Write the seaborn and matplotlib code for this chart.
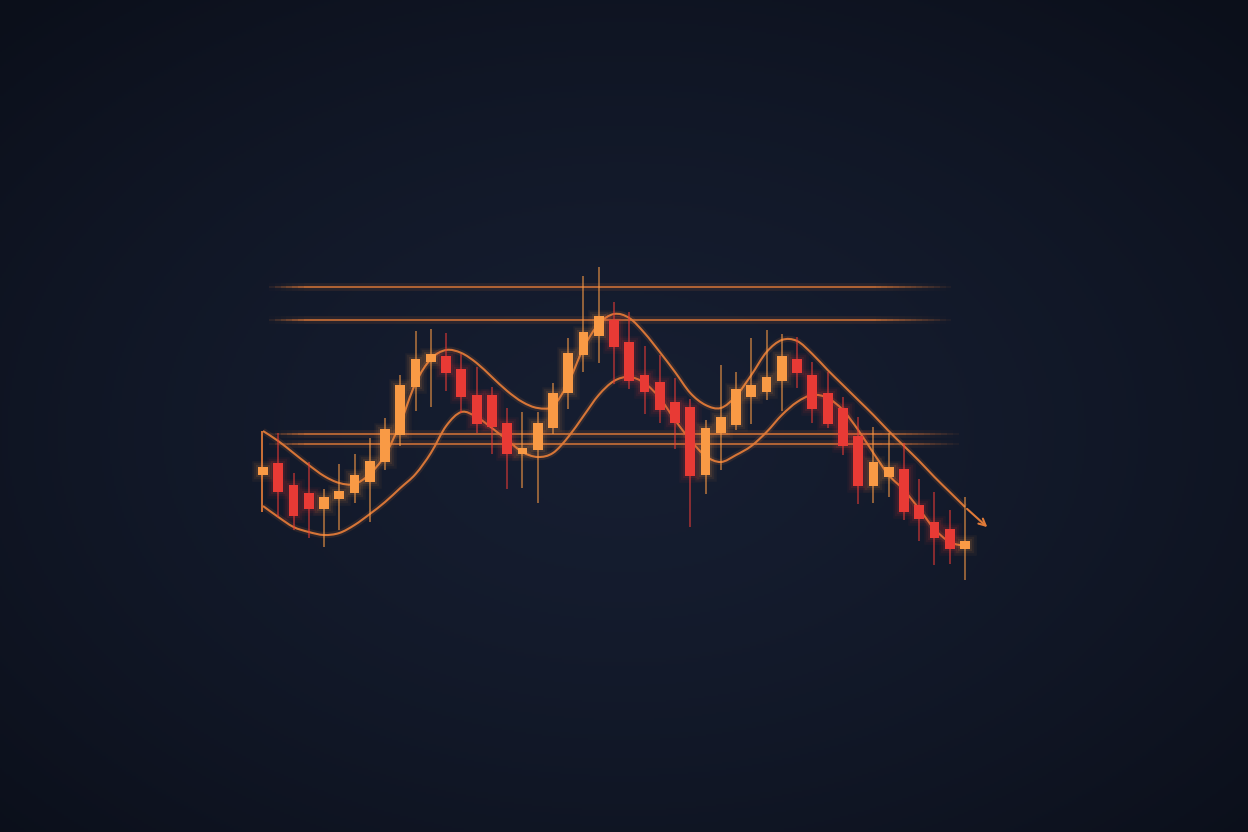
"""Dark candlestick chart with envelope curves, support/resistance levels and a trend arrow."""
import matplotlib
matplotlib.use("Agg")
import matplotlib.pyplot as plt
import numpy as np
import pandas as pd
import seaborn as sns
from matplotlib.collections import LineCollection
from matplotlib.colors import to_rgb
from matplotlib.patches import PathPatch
from matplotlib.path import Path

# candle data (price units, arbitrary scale)
opens = [225, 237, 215, 207, 191, 201, 207, 218, 238, 265, 313, 338, 344, 331, 305, 305,
         277, 246, 250, 272, 307, 345, 364, 380, 358, 325, 318, 298, 293, 225, 267, 275,
         303, 308, 319, 341, 325, 307, 292, 264, 214, 223, 231, 195, 178, 171, 151]
closes = [233, 208, 184, 191, 203, 209, 225, 239, 271, 315, 341, 346, 327, 303, 276, 273,
          246, 252, 277, 307, 347, 368, 384, 353, 319, 308, 290, 277, 224, 272, 283, 311,
          315, 323, 344, 327, 291, 276, 254, 214, 238, 233, 188, 181, 162, 151, 159]
highs = [233, 267, 227, 238, 211, 236, 246, 262, 282, 325, 369, 371, 367, 346, 333, 313,
         292, 288, 288, 317, 362, 424, 433, 398, 388, 354, 345, 322, 301, 280, 335, 328,
         362, 370, 366, 363, 338, 328, 303, 283, 273, 267, 257, 221, 208, 190, 203]
lows = [225, 183, 170, 162, 153, 170, 197, 178, 230, 254, 289, 293, 309, 287, 267, 246,
        211, 212, 197, 266, 291, 328, 337, 316, 311, 286, 277, 251, 173, 206, 230, 270,
        276, 300, 289, 312, 277, 272, 245, 196, 197, 203, 180, 159, 135, 136, 120]

# envelope curves
upper_band = [269, 259, 247, 235, 224, 217, 216, 226, 245, 277, 317, 341, 350, 347, 337, 323,
              309, 298, 292, 294, 317, 352, 376, 386, 382, 367, 348, 328, 307, 295, 292, 304,
              325, 348, 360, 359, 346, 330, 315, 300, 285, 269, 254, 239, 223, 208, 193]
lower_band = [194, 183, 173, 168, 165, 167, 175, 186, 198, 212, 226, 247, 274, 288, 283, 272,
              260, 248, 243, 247, 263, 284, 305, 319, 323, 317, 302, 280, 260, 244, 238, 245,
              254, 268, 285, 298, 305, 302, 290, 270, 247, 225, 210, 191, 171, 158, 154]
bracket_low = 188
arrow_end = (47.6, 171)

resistance_levels = [413, 380]
support_levels = [266, 256]

UP = "#F99A45"
DOWN = "#E83A35"
LINE = "#E07A38"

df = pd.DataFrame({"open": opens, "close": closes, "high": highs, "low": lows})
df["idx"] = np.arange(len(df))
df["up"] = df["close"] >= df["open"]
df["color"] = np.where(df["up"], UP, DOWN)

sns.set_theme(style="dark", rc={"axes.facecolor": "#101626", "figure.facecolor": "#101626"})

fig = plt.figure(figsize=(12.48, 8.32), dpi=100)
ax = fig.add_axes([0, 0, 1, 1])
xlim = (-263 / 15.26, (1248 - 263) / 15.26)
ylim = (-132, 700)
ax.set_xlim(xlim)
ax.set_ylim(ylim)
ax.axis("off")

# background radial gradient
h, w = 416, 624
Y, X = np.mgrid[0:1:h * 1j, 0:1:w * 1j]
r = np.sqrt(((X - 0.5) / 0.75) ** 2 + ((Y - 0.52) / 0.75) ** 2)
t = np.clip(r / 0.95, 0, 1) ** 1.4
c_in = np.array(to_rgb("#161e31"))
c_out = np.array(to_rgb("#0b0f1a"))
bg = c_in[None, None, :] * (1 - t[..., None]) + c_out[None, None, :] * t[..., None]
ax.imshow(bg, extent=(*xlim, *ylim), aspect="auto", zorder=0, origin="upper")


def faded_hline(y, x0, x1, lw=1.4, alpha=0.75):
    xs = np.linspace(x0, x1, 120)
    segs = [[(xs[k], y), (xs[k + 1], y)] for k in range(len(xs) - 1)]
    pos = np.linspace(0, 1, len(segs))
    a = alpha * np.clip(np.minimum(pos / 0.06, (1 - pos) / 0.12), 0, 1)
    cols = [(*to_rgb(LINE), ai) for ai in a]
    ax.add_collection(LineCollection(segs, colors=cols, linewidths=lw, zorder=2))
    glow = [(*to_rgb(LINE), ai * 0.15) for ai in a]
    ax.add_collection(LineCollection(segs, colors=glow, linewidths=lw * 4, zorder=2))


def smooth_path(xs, ys):
    # Catmull-Rom through the points, drawn as cubic Bezier segments
    pts = np.column_stack([xs, ys]).astype(float)
    verts, codes = [pts[0]], [Path.MOVETO]
    for k in range(len(pts) - 1):
        p0 = pts[max(k - 1, 0)]
        p1, p2 = pts[k], pts[k + 1]
        p3 = pts[min(k + 2, len(pts) - 1)]
        verts += [p1 + (p2 - p0) / 6, p2 - (p3 - p1) / 6, p2]
        codes += [Path.CURVE4] * 3
    return Path(verts, codes)


for lvl in resistance_levels:
    faded_hline(lvl, 0, 45.5)
for lvl in support_levels:
    faded_hline(lvl, 0, 46.0)

# envelope curves
for band in [upper_band, lower_band]:
    path = smooth_path(df["idx"], band)
    ax.add_patch(PathPatch(path, fc="none", ec=LINE, lw=4.5, alpha=0.12, zorder=3))
    ax.add_patch(PathPatch(path, fc="none", ec=LINE, lw=1.5, alpha=0.95, zorder=4))
ax.vlines(-0.05, bracket_low, upper_band[0], color=LINE, lw=1.4, alpha=0.9, zorder=4)
ax.annotate("", xy=arrow_end, xytext=(df["idx"].iloc[-1], upper_band[-1]),
            arrowprops=dict(arrowstyle="->", color=LINE, lw=1.5, mutation_scale=12), zorder=4)

# candles: wicks, glow, bodies
width = 0.64
ax.vlines(df["idx"], df["low"], df["high"], colors=df["color"], lw=1.1, alpha=0.7, zorder=5)
body_low = df[["open", "close"]].min(axis=1)
body_h = (df["close"] - df["open"]).abs().clip(lower=3)
for lw, a in [(9, 0.05), (6, 0.07), (3, 0.1)]:
    ax.bar(df["idx"], body_h, bottom=body_low, width=width, color="none",
           edgecolor=df["color"], linewidth=lw, alpha=a, zorder=6)
ax.bar(df["idx"], body_h, bottom=body_low, width=width, color=df["color"],
       edgecolor="none", zorder=7)

fig.savefig("out.png", dpi=100, facecolor=fig.get_facecolor())
